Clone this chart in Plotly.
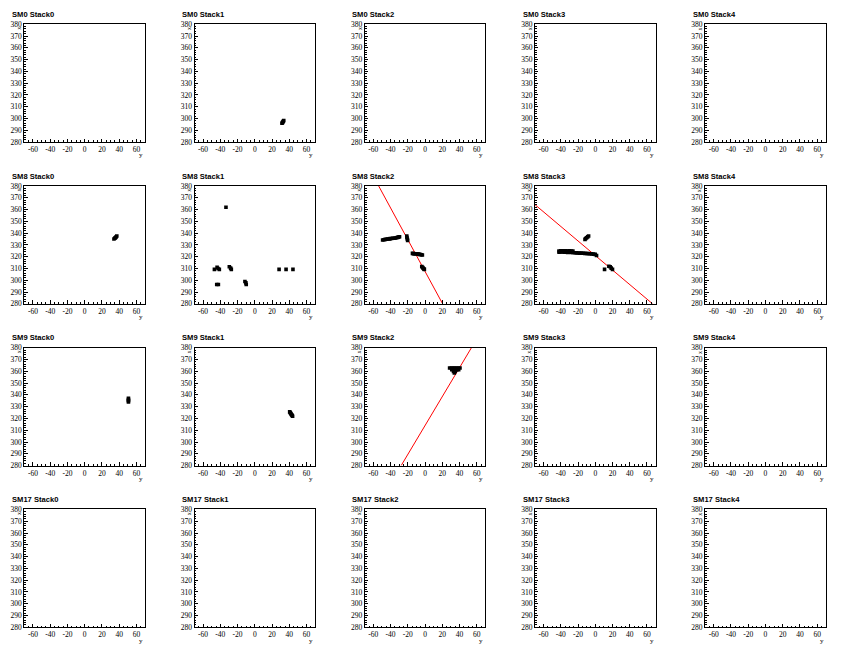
import plotly.graph_objects as go

# ---------------- data ----------------
ROWS = ["SM0", "SM8", "SM9", "SM17"]
COLS = ["Stack0", "Stack1", "Stack2", "Stack3", "Stack4"]

Y_RANGE = [-70, 70]     # horizontal axis ("y")
X_RANGE = [280, 380]    # vertical axis ("x")
Y_TICKS = [-60, -40, -20, 0, 20, 40, 60]
Y_TICKTEXT = ["-60", "-40", "-20", "0", "20", "40", "60"]
X_TICKS = [280, 290, 300, 310, 320, 330, 340, 350, 360, 370, 380]

# hits: horizontal = y, vertical = x
SM0_S1_Y = [31.5, 32.0, 32.5, 33.0, 33.5]
SM0_S1_X = [296.0, 296.5, 297.0, 297.7, 298.3]

SM8_S0_Y = [34.0, 35.0, 35.6, 36.5, 37.3]
SM8_S0_X = [335.0, 335.6, 336.1, 336.8, 337.5]

SM8_S1_Y = [-33.5, -46.9, -43.8, -42.7, -41.2, -44.2, -42.3, -29.6, -28.1, -27.3,
            -11.5, -10.4, -10.0, 28.1, 36.2, 44.2]
SM8_S1_X = [362.0, 309.2, 311.1, 310.0, 309.2, 296.4, 296.4, 311.4, 310.3, 309.2,
            298.9, 297.8, 296.4, 309.2, 309.2, 309.2]

SM8_S2_Y = [-49.2, -47.7, -46.2, -44.6, -43.1, -41.7, -40.4, -38.8, -37.3, -35.9,
            -34.6, -33.2, -31.9, -30.7, -29.6,
            -21.2, -21.0, -20.6, -20.2,
            -14.6, -13.4, -12.3, -11.1, -10.0, -8.8, -7.7, -6.5, -5.4, -4.2, -3.1,
            -3.8, -3.0, -2.3, -1.5, -0.8]
SM8_S2_X = [334.2, 334.4, 334.7, 334.8, 335.0, 335.1, 335.3, 335.4, 335.6, 335.7,
            335.8, 336.1, 336.4, 336.6, 336.9,
            337.5, 336.3, 335.0, 333.8,
            322.8, 322.6, 322.5, 322.5, 322.5, 322.3, 322.2, 322.0, 321.9, 321.6, 321.4,
            311.7, 311.0, 310.3, 309.7, 309.2]

SM8_S3_Y = [-11.9, -11.0, -10.0, -8.8, -7.7,
            -42.0, -40.0, -38.0, -36.0, -34.0, -32.0, -30.0, -28.0, -26.0,
            -42.0, -40.0, -38.0, -36.0, -34.0, -32.0, -30.0, -28.0, -26.0,
            -24.0, -22.0, -20.0, -18.0, -16.0, -14.0, -12.0, -10.0, -8.0, -6.0,
            -4.0, -2.0, 0.0, 1.5,
            10.8, 15.8, 17.3, 18.5, 20.0]
SM8_S3_X = [334.7, 335.4, 336.1, 336.8, 337.5,
            324.8, 325.0, 325.0, 324.9, 325.0, 324.8, 324.9, 324.8, 324.7,
            323.9, 324.0, 324.0, 323.9, 323.8, 323.7, 323.8, 323.6, 323.5,
            323.3, 323.2, 323.1, 323.0, 323.0, 322.9, 322.8, 322.7, 322.6, 322.5,
            322.4, 322.2, 322.0, 321.0,
            309.2, 311.9, 311.4, 310.3, 309.2]

SM9_S0_Y = [50.8, 50.8, 50.8, 50.8]
SM9_S0_X = [334.0, 335.0, 336.0, 337.0]

SM9_S1_Y = [40.4, 41.0, 41.5, 42.1, 42.7, 43.3, 43.8]
SM9_S1_X = [325.6, 325.0, 324.4, 323.7, 323.0, 322.5, 321.9]

SM9_S2_Y = [28.5, 30.5, 32.5, 34.5, 36.5, 38.5, 40.5,
            31.0, 33.0, 35.0, 37.0, 39.0,
            33.0, 35.0, 34.0]
SM9_S2_X = [362.8, 362.8, 362.8, 362.8, 362.8, 362.8, 362.8,
            361.3, 361.3, 361.3, 361.3, 361.3,
            359.8, 359.8, 358.6]

# fitted tracks (red lines): endpoints at frame edges
SM8_S2_LINE_Y = [-53.8, 20.4]
SM8_S2_LINE_X = [380.0, 280.0]
SM8_S3_LINE_Y = [-70.0, 66.5]
SM8_S3_LINE_X = [364.2, 280.0]
SM9_S2_LINE_Y = [-27.7, 53.8]
SM9_S2_LINE_X = [280.0, 380.0]

HITS = {
    (0, 1): (SM0_S1_Y, SM0_S1_X),
    (1, 0): (SM8_S0_Y, SM8_S0_X),
    (1, 1): (SM8_S1_Y, SM8_S1_X),
    (1, 2): (SM8_S2_Y, SM8_S2_X),
    (1, 3): (SM8_S3_Y, SM8_S3_X),
    (2, 0): (SM9_S0_Y, SM9_S0_X),
    (2, 1): (SM9_S1_Y, SM9_S1_X),
    (2, 2): (SM9_S2_Y, SM9_S2_X),
}
LINES = {
    (1, 2): (SM8_S2_LINE_Y, SM8_S2_LINE_X),
    (1, 3): (SM8_S3_LINE_Y, SM8_S3_LINE_X),
    (2, 2): (SM9_S2_LINE_Y, SM9_S2_LINE_X),
}

# ---------------- layout ----------------
W, H = 851, 656
PW, PH = W / 5.0, H / 4.0
FL, FR, FT, FB = 24.3, 145.0, 20.5, 140.0   # frame inside pad (px)

fig = go.Figure()
layout = dict(width=W, height=H, margin=dict(l=0, r=0, t=0, b=0),
              paper_bgcolor="white", plot_bgcolor="white", showlegend=False)
annotations = []
tickfont = dict(family="Liberation Serif, Times New Roman, serif", size=7.5, color="black")

for r in range(4):
    for c in range(5):
        i = r * 5 + c + 1
        sfx = "" if i == 1 else str(i)
        x0 = (PW * c + FL) / W
        x1 = (PW * c + FR) / W
        ytop = 1 - (PH * r + FT) / H
        ybot = 1 - (PH * r + FB) / H
        layout["xaxis" + sfx] = dict(
            domain=[x0, x1], anchor="y" + sfx, range=Y_RANGE,
            tickmode="array", tickvals=Y_TICKS, ticktext=Y_TICKTEXT,
            ticks="inside", ticklen=3.5, tickwidth=1, tickcolor="black",
            minor=dict(dtick=5, tick0=0, ticks="inside", ticklen=1.8, tickcolor="black", tickwidth=1),
            showline=True, linecolor="black", linewidth=1, mirror=True,
            showgrid=False, zeroline=False, tickfont=tickfont, fixedrange=True)
        layout["yaxis" + sfx] = dict(
            domain=[ybot, ytop], anchor="x" + sfx, range=X_RANGE,
            tickmode="array", tickvals=X_TICKS, ticks="inside", ticklen=3.5,
            tickwidth=1, tickcolor="black",
            minor=dict(dtick=2, tick0=280, ticks="inside", ticklen=1.8, tickcolor="black", tickwidth=1),
            showline=True, linecolor="black", linewidth=1, mirror=True,
            showgrid=False, zeroline=False, tickfont=tickfont, fixedrange=True)

        if (r, c) in LINES:
            ly, lx = LINES[(r, c)]
            fig.add_trace(go.Scatter(x=ly, y=lx, mode="lines",
                                     line=dict(color="red", width=1),
                                     xaxis="x" + sfx, yaxis="y" + sfx, hoverinfo="skip"))
        if (r, c) in HITS:
            hy, hx = HITS[(r, c)]
            fig.add_trace(go.Scatter(x=hy, y=hx, mode="markers",
                                     marker=dict(symbol="square", size=3.6, color="black",
                                                 line=dict(width=0)),
                                     xaxis="x" + sfx, yaxis="y" + sfx))
        else:
            fig.add_trace(go.Scatter(x=[], y=[], mode="markers",
                                     xaxis="x" + sfx, yaxis="y" + sfx))

        # title
        annotations.append(dict(
            text="<b>%s %s</b>" % (ROWS[r], COLS[c]), xref="paper", yref="paper",
            x=(PW * c + 10) / W, y=1 - (PH * r + 10.5) / H,
            xanchor="left", yanchor="middle", showarrow=False,
            font=dict(family="Liberation Sans, Arial, sans-serif", size=7.6, color="black")))
        # axis titles
        annotations.append(dict(
            text="y", xref="paper", yref="paper",
            x=(PW * c + FR) / W, y=1 - (PH * r + 153.5) / H,
            xanchor="right", yanchor="middle", showarrow=False,
            font=dict(family="Liberation Serif, Times New Roman, serif", size=7, color="black")))
        annotations.append(dict(
            text="x", xref="paper", yref="paper",
            x=(PW * c + 19) / W, y=1 - (PH * r + FT + 1) / H,
            xanchor="center", yanchor="top", showarrow=False, textangle=-90,
            font=dict(family="Liberation Serif, Times New Roman, serif", size=6, color="black")))

layout["annotations"] = annotations
fig.update_layout(**layout)
fig.write_html(
    "out.html",
    config={"displayModeBar": False, "staticPlot": True},
    post_script=(
        "document.documentElement.style.margin='0';"
        "document.documentElement.style.overflow='hidden';"
        "document.body.style.margin='0';document.body.style.padding='0';"
        "document.body.style.overflow='hidden';"
        "document.body.style.height='656px';"
        "var gd=document.getElementById('{plot_id}');"
        "gd.style.position='fixed';gd.style.left='0px';gd.style.top='0px';"
    ),
)
